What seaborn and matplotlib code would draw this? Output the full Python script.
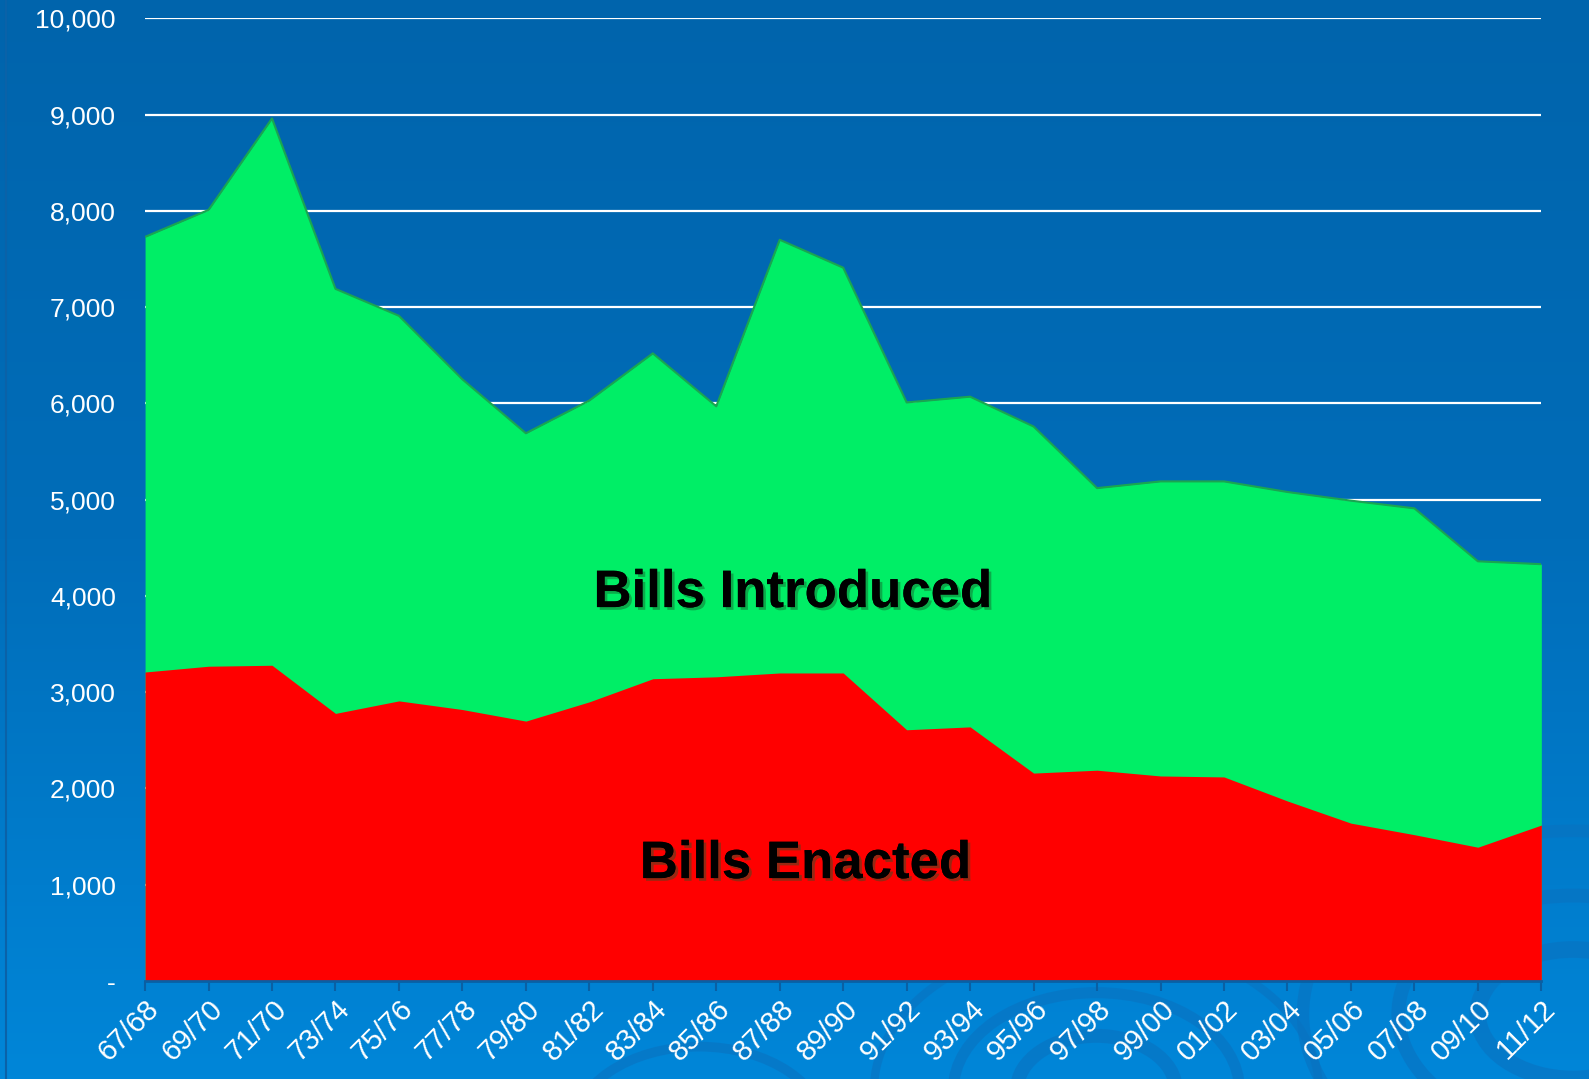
import matplotlib
matplotlib.use("Agg")
import matplotlib.pyplot as plt
import matplotlib.patheffects as pe
from matplotlib.patches import Circle
import seaborn as sns
import numpy as np
import pandas as pd

# sessions (x axis) and bill counts
sessions = ["67/68", "69/70", "71/70", "73/74", "75/76", "77/78", "79/80", "81/82",
            "83/84", "85/86", "87/88", "89/90", "91/92", "93/94", "95/96", "97/98",
            "99/00", "01/02", "03/04", "05/06", "07/08", "09/10", "11/12"]
introduced = [7730, 8010, 8960, 7190, 6910, 6250, 5690, 6030, 6520, 5970, 7700, 7410,
              6010, 6070, 5760, 5120, 5190, 5190, 5080, 4990, 4910, 4360, 4330]
enacted = [3210, 3270, 3280, 2780, 2910, 2820, 2700, 2900, 3140, 3160, 3200, 3200,
           2610, 2640, 2160, 2190, 2130, 2120, 1870, 1640, 1520, 1390, 1620]
y_ticks = [0, 1000, 2000, 3000, 4000, 5000, 6000, 7000, 8000, 9000, 10000]

df = pd.DataFrame({"session": sessions, "introduced": introduced, "enacted": enacted})
df["pos"] = range(len(df))

sns.set_theme(style="white")
plt.rcParams["font.family"] = ["Liberation Sans", "DejaVu Sans"]

fig = plt.figure(figsize=(15.89, 10.79), dpi=100)

# slide background: vertical blue gradient with faint swirls
bg = fig.add_axes([0, 0, 1, 1], zorder=-10)
grad = np.linspace(0, 1, 256).reshape(-1, 1)
cmap = matplotlib.colors.LinearSegmentedColormap.from_list(
    "bg", ["#0064AC", "#006DB9", "#0086D8"])
bg.imshow(grad, aspect="auto", cmap=cmap, extent=[0, 1, 0, 1], origin="upper")
for cx, cy, r, lw in [(0.99, 0.06, 0.06, 12), (0.99, 0.06, 0.11, 10), (0.99, 0.06, 0.17, 9),
                      (0.69, -0.01, 0.05, 10), (0.69, -0.01, 0.09, 8), (0.69, -0.01, 0.14, 6),
                      (0.44, -0.05, 0.08, 7)]:
    bg.add_patch(Circle((cx, cy), r, transform=bg.transAxes, fill=False,
                        ec="#0a72c0", lw=lw, alpha=0.6))
bg.axvline(0.0035, color="#0a62a8", lw=1.5)
bg.set_xlim(0, 1)
bg.set_ylim(0, 1)
bg.axis("off")

ax = fig.add_axes([0.0913, 0.0908, 0.8787, 0.8922])
ax.set_facecolor("none")

ax.fill_between(df["pos"], 0, df["introduced"], color="#00EE66", lw=0, zorder=2)
sns.lineplot(data=df, x="pos", y="introduced", ax=ax, color="#1aa550", lw=1.5, zorder=3)
ax.fill_between(df["pos"], 0, df["enacted"], color="#FF0000", lw=0, zorder=4)

ax.set_xlim(0, len(df) - 1)
ax.set_ylim(0, 10000)
ax.set_yticks(y_ticks)
ax.set_yticklabels(["-"] + [f"{v:,}" for v in y_ticks[1:]], color="white", fontsize=19)
ax.set_xticks(df["pos"])
ax.set_xticklabels(df["session"], rotation=45, ha="right", rotation_mode="anchor",
                   color="white", fontsize=21)
ax.tick_params(axis="x", length=7, width=1.5, color="#0a5fa3", pad=3, bottom=True)
ax.tick_params(axis="y", length=0, pad=21)
for yv in y_ticks[1:]:
    ax.axhline(yv, color="white", lw=1.6, zorder=1)
for s in ["top", "right", "left"]:
    ax.spines[s].set_visible(False)
ax.spines["bottom"].set_color("#0a5fa3")
ax.spines["bottom"].set_linewidth(2)
ax.spines["bottom"].set_zorder(6)
ax.set_xlabel("")
ax.set_ylabel("")
ax.grid(False)

shadow = [pe.withSimplePatchShadow(offset=(2, -2), shadow_rgbFace="#1a5a2a", alpha=0.45),
          pe.Normal()]
ax.text(10.2, 4030, "Bills Introduced", fontsize=38, fontweight="bold", color="black",
        ha="center", va="center", zorder=7, path_effects=shadow)
ax.text(10.4, 1215, "Bills Enacted", fontsize=38, fontweight="bold", color="black",
        ha="center", va="center", zorder=7, path_effects=shadow)

fig.savefig("out.png", dpi=100)
plt.close(fig)
